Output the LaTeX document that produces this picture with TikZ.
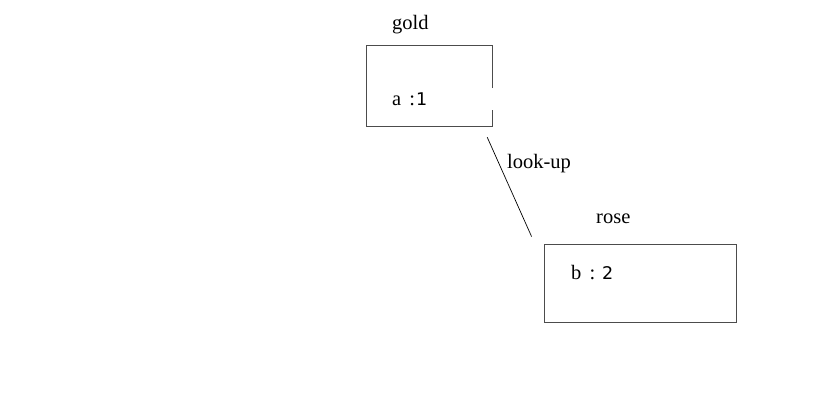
\documentclass[tikz,border=0pt]{standalone}
\usepackage{fontspec}
\setmainfont{Liberation Serif}
\newfontfamily\digitfont{DejaVu Sans}
\usetikzlibrary{positioning}

\begin{document}
\begin{tikzpicture}[x=1pt,y=-1pt,inner sep=0pt,
    font=\fontsize{20.5}{24}\selectfont,
    varbox/.style={minimum width=#1,minimum height=80pt},
    txt/.style={anchor=base west},
    dig/.style={font=\fontsize{17.5}{20}\selectfont\digitfont}]
    % cadre
    \useasboundingbox (0,0) rectangle (813,413);
    % boites
    \node[varbox=125pt] (gold) at (429.5,86) {};
    \node[varbox=192pt,minimum height=78pt,draw,line width=0.8pt,gray!60!black] (rose) at (640,283) {};
    \draw[line width=0.8pt,gray!60!black] (gold.east |- 0,88) -- (gold.north east) -- (gold.north west)
      -- (gold.south west) -- (gold.south east) -- (gold.east |- 0,110);
    % etiquettes
    \node[txt] (goldname) at (392,29) {gold};
    \node[txt] (avar) at (392,105) {a\hspace{3pt} :};
    \node[txt,dig] (aval) at (416,105) {1};
    \node[txt] (rosename) at (596,223) {rose};
    \node[txt] (bvar) at (571,279) {b\hspace{3pt} :};
    \node[txt,dig] (bval) at (602,279) {2};
    % lien
    \draw[line width=0.7pt] ([shift={(-5,11)}]gold.south east) -- ([shift={(-12,-7)}]rose.north west);
    \node[txt] (lookup) at (507,168) {look-up};
\end{tikzpicture}
\end{document}
